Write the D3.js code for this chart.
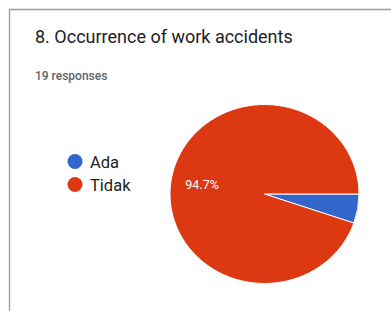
<!DOCTYPE html>
<html>
<head>
<meta charset="utf-8">
<script src="https://cdn.jsdelivr.net/npm/d3@7"></script>
<style>
  body { margin: 0; background: #fff; }
  text { font-family: Roboto, "Noto Sans", sans-serif; }
</style>
</head>
<body>
<div id="chart"></div>
<script>
var title = "8. Occurrence of work accidents";
var subtitle = "19 responses";
var categories = ["Ada", "Tidak"];
var counts = [1, 18];
var colors = ["#3366cc", "#dc3912"];

function init() {
  var w = 391;
  var h = 311;

  var cx = 264.5;
  var cy = 194;
  var rx = 94.5;
  var ry = 89.5;

  var dataset = categories.map(function(c, i) {
    return { name: c, value: counts[i], color: colors[i] };
  });
  var total = d3.sum(counts);

  var svg = d3.select("#chart")
              .append("svg")
              .attr("width", w)
              .attr("height", h);

  svg.append("rect")
     .attr("width", w)
     .attr("height", h)
     .attr("fill", "#fff");

  // card border (runs off the right and bottom)
  svg.append("path")
     .attr("d", "M9.5," + (h + 5) + "V9.5H" + (w + 5))
     .attr("fill", "none")
     .attr("stroke", "#9c9c9c")
     .attr("stroke-width", 1.3);

  svg.append("text")
     .attr("x", 35)
     .attr("y", 43)
     .attr("font-size", 18)
     .attr("fill", "#202124")
     .text(title);

  svg.append("text")
     .attr("x", 35)
     .attr("y", 80)
     .attr("font-size", 12)
     .attr("font-weight", 500)
     .attr("fill", "#5f6368")
     .text(subtitle);

  // pie, starting at 3 o'clock going clockwise
  var pie = d3.pie()
              .sort(null)
              .value(function(d) { return d.value; })
              .startAngle(Math.PI / 2)
              .endAngle(Math.PI / 2 + 2 * Math.PI);

  var arc = d3.arc().innerRadius(0).outerRadius(rx);

  var arcs = pie(dataset);

  var g = svg.append("g")
             .attr("transform", "translate(" + cx + "," + cy + ") scale(1," + (ry / rx) + ")");

  g.selectAll("path")
   .data(arcs)
   .enter()
   .append("path")
   .attr("d", arc)
   .attr("fill", function(d) { return d.data.color; })
   .attr("stroke", "#fff")
   .attr("stroke-width", 1);

  var labelArc = d3.arc().innerRadius(rx * 0.67).outerRadius(rx * 0.67);

  svg.selectAll(".pctLabel")
     .data(arcs.filter(function(d) { return d.value / total > 0.1; }))
     .enter()
     .append("text")
     .attr("class", "pctLabel")
     .attr("x", function(d) { return cx + labelArc.centroid(d)[0]; })
     .attr("y", function(d) { return cy + labelArc.centroid(d)[1] * ry / rx + 4.5; })
     .attr("text-anchor", "middle")
     .attr("font-size", 12.5)
     .attr("fill", "#fff")
     .text(function(d) { return (d.value / total * 100).toFixed(1) + "%"; });

  // legend
  var legend = svg.selectAll(".legend")
                  .data(dataset)
                  .enter()
                  .append("g")
                  .attr("class", "legend")
                  .attr("transform", function(d, i) { return "translate(75," + (161.5 + i * 23) + ")"; });

  legend.append("circle")
        .attr("r", 7.5)
        .attr("fill", function(d) { return d.color; });

  legend.append("text")
        .attr("x", 15)
        .attr("y", 6)
        .attr("font-size", 16.5)
        .attr("fill", "#222")
        .text(function(d) { return d.name; });
}

window.onload = init;
</script>
</body>
</html>
